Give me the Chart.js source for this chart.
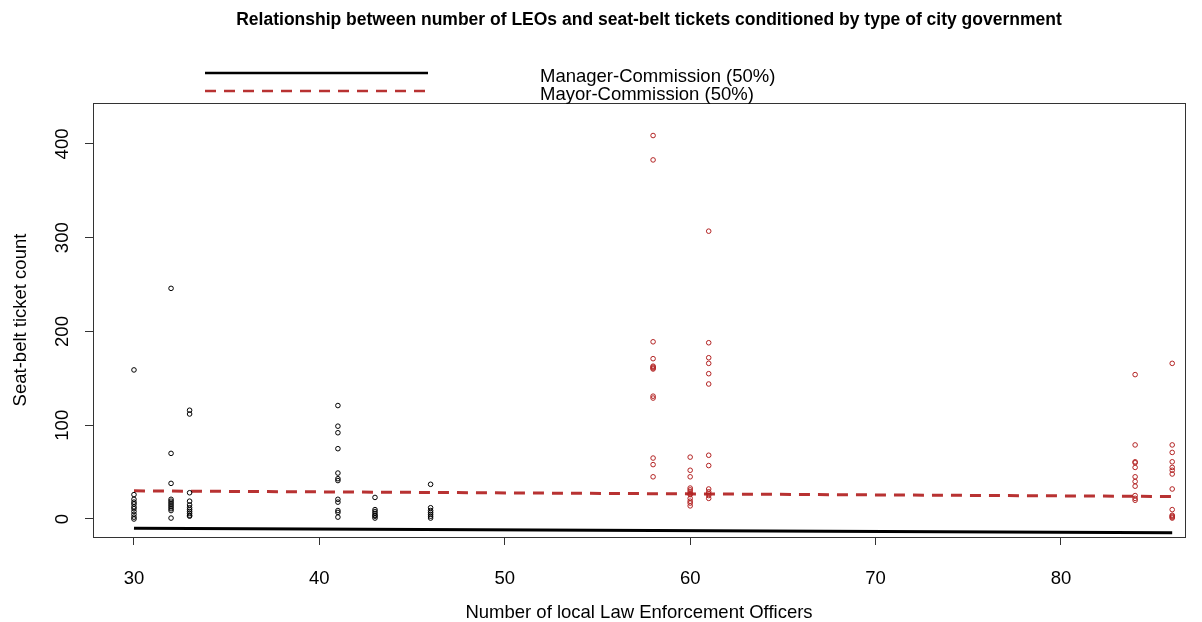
<!DOCTYPE html>
<html>
<head>
<meta charset="utf-8">
<script src="https://cdn.jsdelivr.net/npm/chart.js@4.4.0/dist/chart.umd.min.js"></script>
<style>
  body { margin: 0; background: #fff; }
  canvas { display: block; }
</style>
</head>
<body>
<canvas id="chart" width="1202" height="622"></canvas>
<script>
// number of LEOs per city and the seat-belt ticket counts seen at each
var managerOfficers = [30, 32, 33, 41, 43, 46];
var managerTickets = [
    [159, 26, 21, 18, 16, 13, 11, 8, 5, 2, 0],
    [246, 70, 38, 21, 19, 17, 15, 13, 11, 9, 1],
    [116, 112, 28, 19, 15, 12, 10, 8, 6, 4, 3],
    [121, 99, 92, 75, 49, 43, 41, 21, 18, 9, 7, 2],
    [23, 10, 8, 6, 4, 3, 1],
    [37, 12, 9, 7, 5, 3, 1]
];
var mayorOfficers = [58, 60, 61, 84, 86];
var mayorTickets = [
    [409, 383, 189, 171, 163, 162, 161, 160, 131, 129, 65, 58, 45],
    [66, 52, 45, 33, 31, 29, 27, 26, 22, 19, 17, 14],
    [307, 188, 172, 166, 155, 144, 68, 57, 32, 29, 27, 25, 22],
    [154, 79, 61, 60, 55, 45, 40, 35, 25, 22, 20],
    [166, 79, 71, 61, 55, 52, 48, 32, 10, 4, 3, 2, 1]
];

// predicted ticket count at 50% for each government type
var fitOfficers = [30, 86];
var managerFit = [-10, -14.6];
var mayorFit = [30, 24];

var xTicks = [30, 40, 50, 60, 70, 80];
var yTicks = [0, 100, 200, 300, 400];

var FONT = "'Liberation Sans', Arial, sans-serif";
var RED = '#b22222';

function toPoints(xs, ys) {
    var pts = [];
    xs.forEach(function(x, i) {
        ys[i].forEach(function(y) { pts.push({x: x, y: y}); });
    });
    return pts;
}

function linePoints(ys) {
    return fitOfficers.map(function(x, i) { return {x: x, y: ys[i]}; });
}

// R style box, title and the free-floating legend
var decorations = {
    id: 'decorations',
    afterDraw: function(chart) {
        var ctx = chart.ctx;
        var a = chart.chartArea;
        ctx.save();
        ctx.strokeStyle = '#333';
        ctx.lineWidth = 1;
        ctx.strokeRect(Math.round(a.left) + 0.5, Math.round(a.top) + 0.5,
            Math.round(a.right - a.left), Math.round(a.bottom - a.top));

        ctx.fillStyle = '#000';
        ctx.font = 'bold 17.5px ' + FONT;
        ctx.textAlign = 'center';
        ctx.textBaseline = 'middle';
        ctx.fillText('Relationship between number of LEOs and seat-belt tickets conditioned by type of city government', 649, 20);

        var ds = chart.data.datasets;
        var rows = [ds[2], ds[3]];
        ctx.font = '18.5px ' + FONT;
        ctx.textAlign = 'left';
        rows.forEach(function(d, i) {
            var y = 73 + i * 18;
            ctx.beginPath();
            ctx.strokeStyle = d.borderColor;
            ctx.lineWidth = 2.5;
            ctx.setLineDash(d.borderDash || []);
            ctx.moveTo(205, y);
            ctx.lineTo(428, y);
            ctx.stroke();
            ctx.setLineDash([]);
            ctx.fillStyle = '#000';
            ctx.fillText(d.label, 540, y + 4);
        });
        ctx.restore();
    }
};

var ctx = document.getElementById('chart').getContext('2d');
var myChart = new Chart(ctx, {
    type: 'scatter',
    data: {
        datasets: [{
            data: toPoints(managerOfficers, managerTickets),
            borderColor: '#000',
            backgroundColor: 'rgba(0,0,0,0)',
            pointRadius: 2.3,
            borderWidth: 1
        }, {
            data: toPoints(mayorOfficers, mayorTickets),
            borderColor: RED,
            backgroundColor: 'rgba(0,0,0,0)',
            pointRadius: 2.3,
            borderWidth: 1
        }, {
            type: 'line',
            label: 'Manager-Commission (50%)',
            data: linePoints(managerFit),
            borderColor: '#000',
            borderWidth: 3,
            pointRadius: 0,
            fill: false
        }, {
            type: 'line',
            label: 'Mayor-Commission (50%)',
            data: linePoints(mayorFit),
            borderColor: '#b83232',
            borderDash: [11, 8],
            borderWidth: 3,
            pointRadius: 0,
            fill: false
        }]
    },
    options: {
        responsive: false,
        animation: false,
        layout: { padding: { top: 103, right: 17, left: 0, bottom: 0 } },
        plugins: {
            legend: { display: false },
            tooltip: { enabled: false }
        },
        scales: {
            x: {
                type: 'linear',
                min: 27.79,
                max: 86.69,
                afterBuildTicks: function(scale) {
                    scale.ticks = xTicks.map(function(v) { return {value: v}; });
                },
                afterFit: function(scale) { scale.height = 85; },
                border: { display: false },
                grid: { drawOnChartArea: false, drawTicks: true, tickLength: 8, color: '#333' },
                ticks: { color: '#000', padding: 23, font: { family: FONT, size: 18.5 }, maxRotation: 0 },
                title: {
                    display: true,
                    text: 'Number of local Law Enforcement Officers',
                    color: '#000',
                    font: { family: FONT, size: 18.5 },
                    padding: { top: 0, bottom: -2 }
                }
            },
            y: {
                type: 'linear',
                min: -19.2,
                max: 443.7,
                afterBuildTicks: function(scale) {
                    scale.ticks = yTicks.map(function(v) { return {value: v}; });
                },
                afterFit: function(scale) { scale.width = 93; },
                border: { display: false },
                grid: { drawOnChartArea: false, drawTicks: true, tickLength: 8, color: '#333' },
                ticks: {
                    color: '#000', padding: 7, crossAlign: 'center',
                    minRotation: 90, maxRotation: 90,
                    font: { family: FONT, size: 18.5 }
                },
                title: {
                    display: true,
                    text: 'Seat-belt ticket count',
                    color: '#000',
                    font: { family: FONT, size: 18.5 },
                    padding: { top: 10, bottom: 0 }
                }
            }
        }
    },
    plugins: [decorations]
});
</script>
</body>
</html>
